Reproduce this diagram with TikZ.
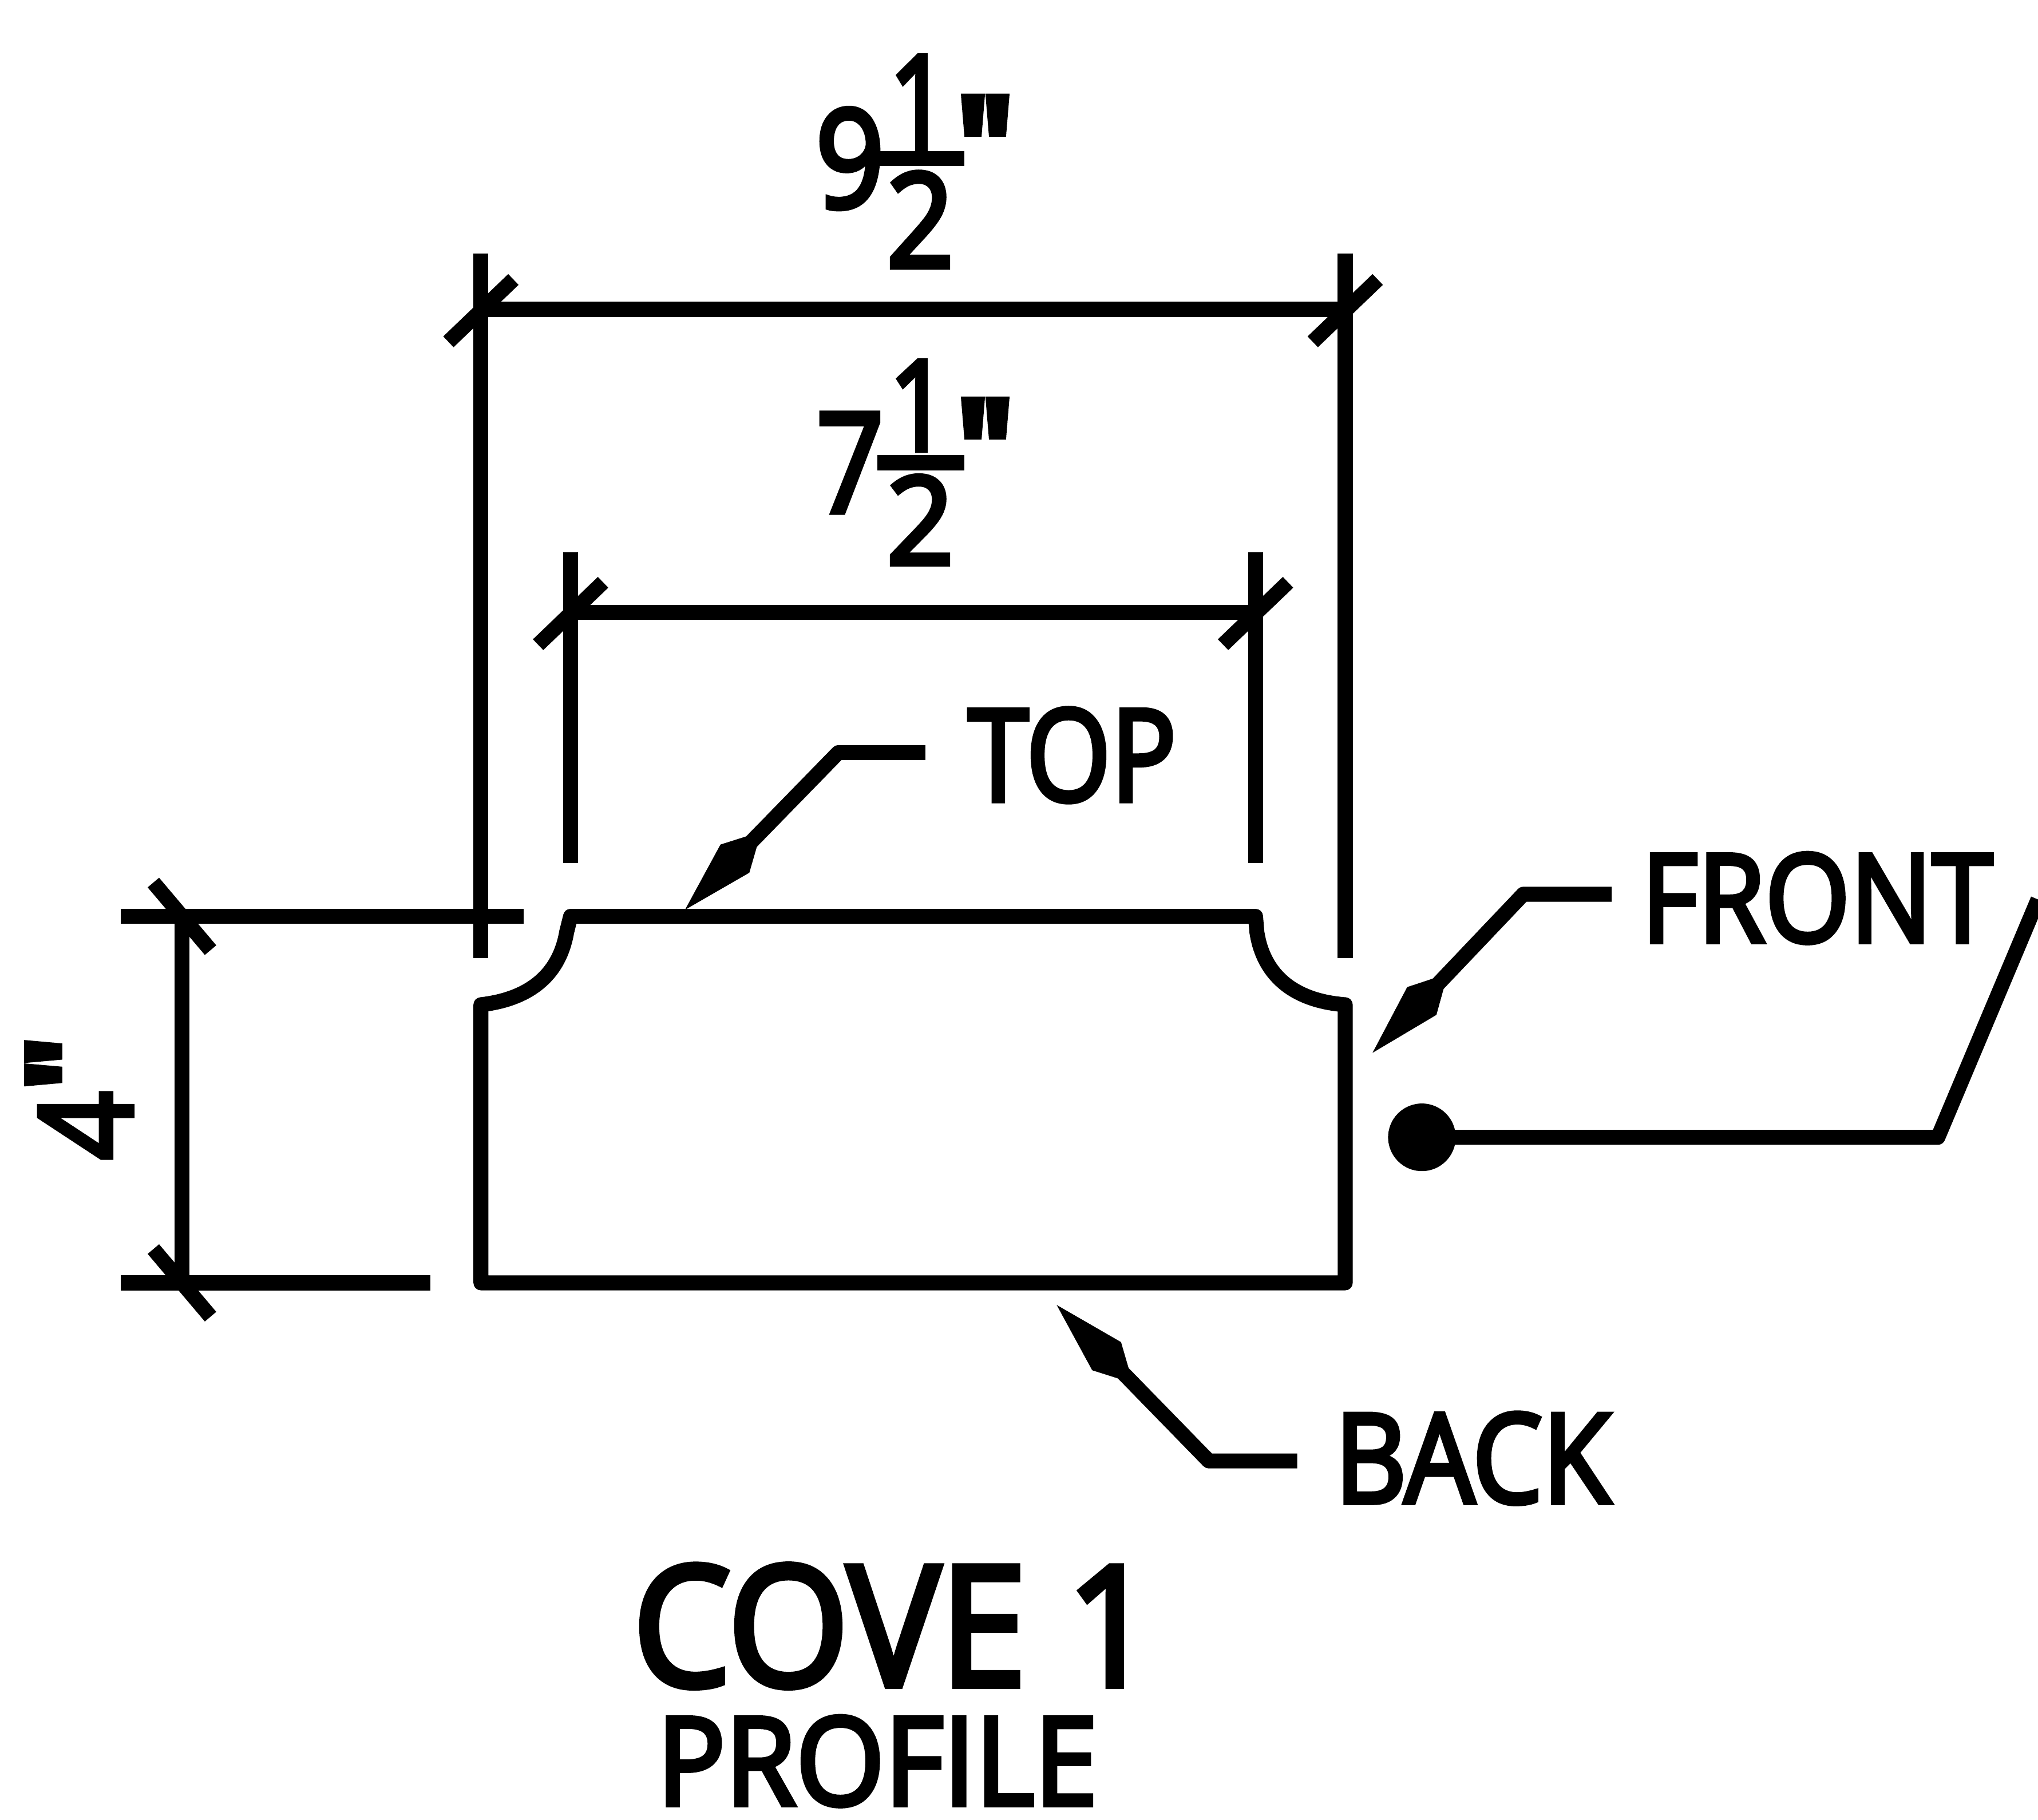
\documentclass[tikz,border=0pt]{standalone}
\usepackage{fontspec}
\usepackage{graphicx}
\setmainfont{Open Sans}
\newfontfamily\cadfont{Open Sans}[FakeBold=4]
\newfontfamily\blobfont{Open Sans}[FakeBold=8]
\usetikzlibrary{arrows.meta}
\newcommand{\sizedtext}[3]{\resizebox{#1mm}{#2mm}{\cadfont #3}}
\newcommand{\sizedblob}[2]{\resizebox{#1mm}{#2mm}{\blobfont "}}
\tikzset{
  cadline/.style={line width=1.15mm,line cap=butt,line join=round},
  tickmark/.style={line width=1.15mm,line cap=butt},
  label/.style={inner sep=0pt,outer sep=0pt,anchor=center},
  leader/.style={cadline,-{Kite[length=8.4mm,width=3.1mm,inset=2.9mm]}},
}
\begin{document}
\begin{tikzpicture}[x=0.01cm,y=-0.01cm]
\useasboundingbox (0,0) rectangle (1568,1400);
% texts
\node[label] (nine) at (654,122) {\sizedtext{5.3}{7.6}{9}};
\node[label] (oneA) at (707,80) {\sizedtext{4.6}{7.4}{1}};
\node[label] (twoA) at (708,169) {\sizedtext{5.2}{7.3}{2}};
\node[label,anchor=north west] (quoteA) at (737,76) {\sizedblob{4.2}{7.0}};
\coordinate (barAl) at (675,122); \coordinate (barAr) at (742,122);
\draw[cadline] (barAl) -- (barAr);
\node[label] (seven) at (654,356) {\sizedtext{5.2}{7.6}{7}};
\node[label] (oneB) at (707,312) {\sizedtext{4.6}{6.9}{1}};
\node[label] (twoB) at (708,400) {\sizedtext{5.2}{6.8}{2}};
\node[label,anchor=north west] (quoteB) at (737,309) {\sizedblob{4.2}{7.0}};
\coordinate (barBl) at (675,356); \coordinate (barBr) at (742,356);
\draw[cadline] (barBl) -- (barBr);
\node[label,rotate=90] (four) at (66,866) {\sizedtext{5.3}{7.1}{4}};
\node[label,rotate=90,anchor=north west] (quoteC) at (22,838) {\sizedblob{4.0}{6.2}};
\node[label] (top) at (825,581) {\sizedtext{16}{7.1}{TOP}};
\node[label] (front) at (1398,691) {\sizedtext{27}{6.8}{FRONT}};
\node[label] (back) at (1133,1122) {\sizedtext{21.2}{6.9}{BACK}};
\node[label] (cove) at (688,1251) {\sizedtext{40.2}{9.3}{COVE 1}};
\node[label] (profile) at (675,1355) {\sizedtext{33.9}{6.8}{PROFILE}};
% profile
\coordinate (pa) at (370,987);
\coordinate (pb) at (370,773);
\coordinate (pc) at (436,717);
\coordinate (pc2) at (439,705);
\coordinate (pd) at (966,705);
\coordinate (pd2) at (967,717);
\coordinate (pe) at (1035,773);
\coordinate (pf) at (1035,987);
\draw[cadline] (pa) -- (pb) .. controls (405,769) and (430,752) .. (pc) -- (pc2) -- (pd) -- (pd2)
  .. controls (972,750) and (995,770) .. (pe) -- (pf) -- cycle;
% extension lines
\coordinate (eat) at (370,195); \coordinate (eab) at (370,737);
\coordinate (ebt) at (1035,195); \coordinate (ebb) at (1035,737);
\coordinate (ect) at (439,425); \coordinate (ecb) at (439,664);
\coordinate (edt) at (966,425); \coordinate (edb) at (966,664);
\coordinate (eel) at (93,705); \coordinate (eer) at (403,705);
\coordinate (efl) at (93,987); \coordinate (efr) at (331,987);
\draw[cadline] (eat) -- (eab);
\draw[cadline] (ebt) -- (ebb);
\draw[cadline] (ect) -- (ecb);
\draw[cadline] (edt) -- (edb);
\draw[cadline] (eel) -- (eer);
\draw[cadline] (efl) -- (efr);
% dimension lines
\coordinate (dal) at (370,238); \coordinate (dar) at (1035,238);
\coordinate (dbl) at (439,471); \coordinate (dbr) at (966,471);
\coordinate (dct) at (140,705); \coordinate (dcb) at (140,987);
\draw[cadline] (dal) -- (dar);
\draw[cadline] (dbl) -- (dbr);
\draw[cadline] (dct) -- (dcb);
% ticks
\foreach \p in {dal,dar,dbl,dbr}
  \draw[tickmark] ([shift={(-25,25)}]\p) -- ([shift={(25,-23)}]\p);
\foreach \p in {dct,dcb}
  \draw[tickmark] ([shift={(-22,-26)}]\p) -- ([shift={(22,26)}]\p);
% leaders
\coordinate (ltopa) at (712,579); \coordinate (ltopb) at (645,579); \coordinate (ltopc) at (527,700);
\draw[leader] (ltopa) -- (ltopb) -- (ltopc);
\coordinate (lfra) at (1240,688); \coordinate (lfrb) at (1172,688); \coordinate (lfrc) at (1056,810);
\draw[leader] (lfra) -- (lfrb) -- (lfrc);
\coordinate (lbka) at (998,1124); \coordinate (lbkb) at (930,1124); \coordinate (lbkc) at (813,1004);
\draw[leader] (lbka) -- (lbkb) -- (lbkc);
% bullet
\node[circle,fill=black,inner sep=0pt,minimum size=5.2mm,outer sep=0pt] (dot) at (1094,875) {};
\coordinate (bkb) at (1491,875); \coordinate (bkc) at (1568,692);
\draw[cadline] (dot.center) -- (bkb) -- (bkc);
\end{tikzpicture}
\end{document}
